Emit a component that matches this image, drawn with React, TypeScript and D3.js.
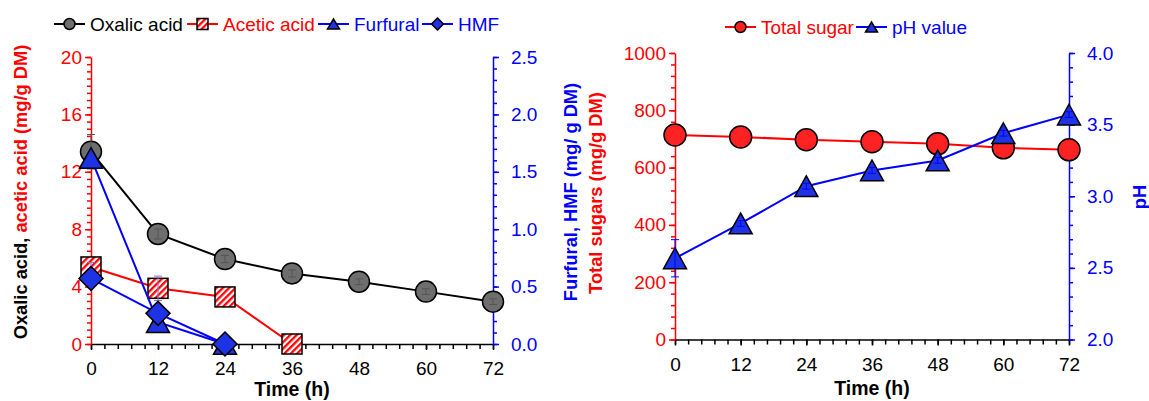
import React, { useEffect, useRef } from "react";
import * as d3 from "d3";

// sampling times (h)
const hours = [0, 12, 24, 36, 48, 60, 72];

// left panel (mg/g DM)
const oxalicAcid = [13.4, 7.67, 5.92, 4.92, 4.34, 3.65, 2.95];
const oxalicErr = [1.2, 0.35, 0.25, 0.25, 0.2, 0.2, 0.2];
const aceticAcid = [5.37, 3.88, 3.28, 0];
const aceticErr = [0.3, 0.85, 0, 0];
const furfural = [1.62, 0.19, 0];
const hmf = [0.57, 0.267, 0];

// right panel
const totalSugar = [714, 707, 697, 690, 683, 669, 662];
const phValue = [2.567, 2.81, 3.07, 3.18, 3.25, 3.44, 3.57];
const phErr = [0.13, 0.02, 0.02, 0.02, 0.02, 0.02, 0.02];

// ticks
const timeTicks = [0, 12, 24, 36, 48, 60, 72];
const acidTicks = [0, 4, 8, 12, 16, 20];
const furfuralTicks = [0, 0.5, 1.0, 1.5, 2.0, 2.5];
const sugarTicks = [0, 200, 400, 600, 800, 1000];
const phTicks = [2.0, 2.5, 3.0, 3.5, 4.0];

const FONT = "'Liberation Sans', Arial, sans-serif";
const RED = "#ff0000";
const BLUE = "#0000ff";
const BLUE_FILL = "#1e32e6";

const App = () => {
  const svgRef = useRef<SVGSVGElement>(null);

  useEffect(() => {
    const svg = d3.select(svgRef.current);
    svg.selectAll("*").remove();

    const defs = svg.append("defs");
    const pat = defs
      .append("pattern")
      .attr("id", "hatch")
      .attr("patternUnits", "userSpaceOnUse")
      .attr("width", 4.5)
      .attr("height", 4.5)
      .attr("patternTransform", "rotate(45)");
    pat.append("rect").attr("width", 4.5).attr("height", 4.5).attr("fill", "#fff");
    pat.append("rect").attr("width", 2.3).attr("height", 4.5).attr("fill", RED);

    const range = (n: number, step: number) => d3.range(n + 1).map((i) => i * step);

    function styleAxis(g: any, color: string) {
      g.selectAll("line").attr("stroke", color).attr("stroke-width", 1.5);
      g.select(".domain").attr("stroke", color).attr("stroke-width", 1.5);
      g.selectAll("text").attr("fill", color).style("font-size", "19px").style("font-family", FONT);
    }

    function yAxis(scale: any, x: number, left: boolean, major: number[], minor: number[], color: string, fmt: any, pad: number) {
      const mk = left ? d3.axisLeft : d3.axisRight;
      const gm = svg
        .append("g")
        .attr("transform", `translate(${x},0)`)
        .call(mk(scale).tickValues(minor).tickSize(4).tickSizeOuter(0).tickFormat(() => ""));
      styleAxis(gm, color);
      gm.select(".domain").remove();
      const g = svg
        .append("g")
        .attr("transform", `translate(${x},0)`)
        .call(mk(scale).tickValues(major).tickSize(6).tickSizeOuter(0).tickPadding(pad).tickFormat(fmt));
      styleAxis(g, color);
    }

    function xAxis(scale: any, y: number) {
      const gm = svg
        .append("g")
        .attr("transform", `translate(0,${y})`)
        .call(d3.axisBottom(scale).tickValues(range(30, 2.4)).tickSize(5).tickSizeOuter(0).tickFormat(() => ""));
      styleAxis(gm, "#000");
      gm.select(".domain").remove();
      const g = svg
        .append("g")
        .attr("transform", `translate(0,${y})`)
        .call(d3.axisBottom(scale).tickValues(timeTicks).tickSize(6).tickSizeOuter(0).tickPadding(12).tickFormat(d3.format("d")));
      styleAxis(g, "#000");
    }

    function rotTitle(x: number, y: number, parts: [string, string][]) {
      const t = svg
        .append("text")
        .attr("transform", `translate(${x},${y}) rotate(-90)`)
        .attr("text-anchor", "middle")
        .style("font-family", FONT)
        .style("font-size", "18.3px")
        .style("font-weight", "bold");
      parts.forEach(([s, c]) => t.append("tspan").attr("fill", c).text(s));
    }

    function hTitle(x: number, y: number, s: string) {
      svg
        .append("text")
        .attr("x", x)
        .attr("y", y)
        .attr("text-anchor", "middle")
        .style("font-family", FONT)
        .style("font-size", "19.5px")
        .style("font-weight", "bold")
        .text(s);
    }

    const triPath = (w: number, h: number) => `M0,${-h / 2}L${w / 2},${h / 2}L${-w / 2},${h / 2}Z`;
    const diaPath = (d: number) => `M0,${-d / 2}L${d / 2},0L0,${d / 2}L${-d / 2},0Z`;

    function series(
      xs: any,
      ys: any,
      vals: number[],
      lineColor: string,
      marker: string,
      fill: string,
      size: number
    ) {
      const pts = vals.map((v, i) => [xs(hours[i]), ys(v)] as [number, number]);
      svg
        .append("path")
        .datum(pts)
        .attr("fill", "none")
        .attr("stroke", lineColor)
        .attr("stroke-width", 2)
        .attr("d", d3.line());
      const g = svg.append("g");
      pts.forEach(([px, py]) => {
        let m: any;
        if (marker === "circle") m = g.append("circle").attr("cx", px).attr("cy", py).attr("r", size / 2);
        else if (marker === "square")
          m = g.append("rect").attr("x", px - size / 2).attr("y", py - size / 2).attr("width", size).attr("height", size);
        else if (marker === "triangle")
          m = g.append("path").attr("transform", `translate(${px},${py})`).attr("d", triPath(size, size * 0.9));
        else m = g.append("path").attr("transform", `translate(${px},${py})`).attr("d", diaPath(size));
        m.attr("fill", fill).attr("stroke", "#000").attr("stroke-width", 1.5);
      });
    }

    function errBars(xs: any, ys: any, vals: number[], errs: number[], color: string) {
      vals.forEach((v, i) => {
        if (!errs[i]) return;
        const px = xs(hours[i]);
        const y1 = ys(v + errs[i]);
        const y2 = ys(v - errs[i]);
        const g = svg.append("g").attr("stroke", color).attr("stroke-width", 1);
        g.append("line").attr("x1", px).attr("x2", px).attr("y1", y1).attr("y2", y2);
        g.append("line").attr("x1", px - 4).attr("x2", px + 4).attr("y1", y1).attr("y2", y1);
        g.append("line").attr("x1", px - 4).attr("x2", px + 4).attr("y1", y2).attr("y2", y2);
      });
    }

    function legendItem(x: number, y: number, marker: string, fill: string, lineColor: string, label: string, textColor: string) {
      svg.append("line").attr("x1", x).attr("x2", x + 31).attr("y1", y).attr("y2", y).attr("stroke", lineColor).attr("stroke-width", 2);
      const cx = x + 15.5;
      let m: any;
      if (marker === "circle") m = svg.append("circle").attr("cx", cx).attr("cy", y).attr("r", 5.5);
      else if (marker === "square") m = svg.append("rect").attr("x", cx - 5.5).attr("y", y - 5.5).attr("width", 11).attr("height", 11);
      else if (marker === "triangle") m = svg.append("path").attr("transform", `translate(${cx},${y})`).attr("d", triPath(12, 10));
      else m = svg.append("path").attr("transform", `translate(${cx},${y})`).attr("d", diaPath(12));
      m.attr("fill", fill).attr("stroke", "#000").attr("stroke-width", 1.5);
      svg
        .append("text")
        .attr("x", x + 36)
        .attr("y", y + 7)
        .attr("fill", textColor)
        .style("font-family", FONT)
        .style("font-size", "19px")
        .text(label);
    }

    // ---------- left panel ----------
    const xL = d3.scaleLinear([0, 72], [91, 493]);
    const yL = d3.scaleLinear([0, 20], [344, 57]);
    const yL2 = d3.scaleLinear([0, 2.5], [344, 57]);

    xAxis(xL, 344);
    yAxis(yL, 91, true, acidTicks, range(40, 0.5), RED, d3.format("d"), 3);
    yAxis(yL2, 493, false, furfuralTicks, range(25, 0.1), BLUE, d3.format(".1f"), 12);

    series(xL, yL, oxalicAcid, "#000", "circle", "#6e6e6e", 21);
    errBars(xL, yL, oxalicAcid, oxalicErr, "#555");
    series(xL, yL, aceticAcid, RED, "square", "url(#hatch)", 20);
    errBars(xL, yL, aceticAcid, aceticErr, "#9070c8");
    series(xL, yL2, furfural, BLUE, "triangle", BLUE_FILL, 23);
    series(xL, yL2, hmf, BLUE, "diamond", BLUE_FILL, 24);

    rotTitle(27, 192, [["Oxalic acid, ", "#000"], ["acetic acid (mg/g DM)", RED]]);
    rotTitle(577, 192, [["Furfural, HMF (mg/ g DM)", BLUE]]);
    hTitle(292, 396, "Time (h)");

    legendItem(54, 24, "circle", "#6e6e6e", "#000", "Oxalic acid", "#000");
    legendItem(187, 24, "square", "url(#hatch)", RED, "Acetic acid", RED);
    legendItem(318, 24, "triangle", BLUE_FILL, BLUE, "Furfural", BLUE);
    legendItem(422, 24, "diamond", BLUE_FILL, BLUE, "HMF", BLUE);

    // ---------- right panel ----------
    const xR = d3.scaleLinear([0, 72], [675, 1069]);
    const yR = d3.scaleLinear([0, 1000], [339.5, 53]);
    const yR2 = d3.scaleLinear([2, 4], [339.5, 53]);

    xAxis(xR, 339.5);
    yAxis(yR, 675, true, sugarTicks, range(25, 40), RED, d3.format("d"), 3);
    yAxis(yR2, 1069, false, phTicks, range(20, 0.1).map((v) => v + 2), BLUE, d3.format(".1f"), 12);

    series(xR, yR, totalSugar, RED, "circle", "#f22", 22);
    series(xR, yR2, phValue, BLUE, "triangle", BLUE_FILL, 23);
    errBars(xR, yR2, phValue, phErr, BLUE);

    rotTitle(602, 193, [["Total sugars (mg/g DM)", RED]]);
    rotTitle(1146, 197, [["pH", BLUE]]);
    hTitle(872, 395, "Time (h)");

    legendItem(725, 27, "circle", "#f22", RED, "Total sugar", RED);
    legendItem(856, 27, "triangle", BLUE_FILL, BLUE, "pH value", BLUE);
  }, []);

  return (
    <svg
      ref={svgRef}
      width={1149}
      height={401}
      style={{ position: "absolute", left: 0, top: 0, background: "#fff" }}
    ></svg>
  );
};

export default App;
